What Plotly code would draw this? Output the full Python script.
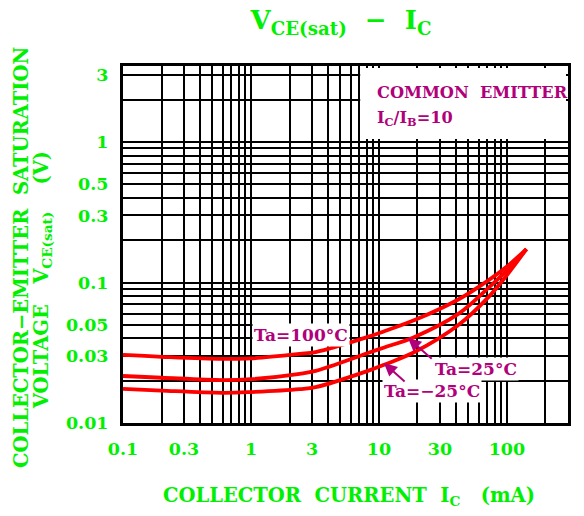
import numpy as np
import plotly.graph_objects as go

# ---- data ----
ic_ma = [0.1, 0.2, 0.6, 1, 2.4, 3.2, 8.2, 11, 19, 42, 72, 100, 142]
vce_100 = [0.0305, 0.0296, 0.0286, 0.0288, 0.031, 0.032, 0.041, 0.045, 0.054, 0.076, 0.104, 0.130, 0.173]
vce_25 = [0.0216, 0.0210, 0.0202, 0.0205, 0.0224, 0.0235, 0.0315, 0.0345, 0.041, 0.060, 0.092, 0.122, 0.173]
vce_m25 = [0.0175, 0.0170, 0.0164, 0.0166, 0.0174, 0.0180, 0.0235, 0.026, 0.032, 0.050, 0.079, 0.113, 0.173]

x_ticks = [0.1, 0.3, 1, 3, 10, 30, 100, 300]
x_tick_text = ["0.1", "0.3", "1", "3", "10", "30", "100", "300"]
y_ticks = [0.01, 0.03, 0.05, 0.1, 0.3, 0.5, 1, 3]
y_tick_text = ["0.01", "0.03", "0.05", "0.1", "0.3", "0.5", "1", "3"]

GREEN = "#00F000"
MAG = "#B0007A"
RED = "#FF0000"
FONT = "DejaVu Serif"

x_minor = [m * 10.0 ** e for e in range(-1, 3) for m in range(1, 10) if m * 10.0 ** e <= 300]
y_minor = [m * 10.0 ** e for e in range(-2, 1) for m in range(1, 10) if m * 10.0 ** e <= 3.5]

fig = go.Figure()
for ys in (vce_100, vce_25, vce_m25):
    fig.add_trace(go.Scatter(x=ic_ma, y=ys, mode="lines",
                             line=dict(color=RED, width=3.8, shape="spline", smoothing=1.0),
                             hoverinfo="skip"))

axis_common = dict(type="log", showgrid=True, gridcolor="black", gridwidth=1.6,
                   showline=True, linecolor="black", linewidth=3, mirror=True,
                   ticks="", zeroline=False,
                   tickfont=dict(family=FONT, size=17.5, color=GREEN, weight="bold"))

fig.update_xaxes(range=[np.log10(0.1), np.log10(300)], tickvals=x_ticks, ticktext=x_tick_text,
                 ticklabelstandoff=8,
                 minor=dict(tickvals=x_minor, showgrid=True, gridcolor="black", gridwidth=1.6, ticks=""),
                 **axis_common)
fig.update_yaxes(range=[-2, -2 + 357 / 140.5], tickvals=y_ticks, ticktext=y_tick_text,
                 ticklabelstandoff=8,
                 minor=dict(tickvals=y_minor, showgrid=True, gridcolor="black", gridwidth=1.6, ticks=""),
                 **axis_common)

# white box hiding the grid behind the condition text
fig.add_shape(type="rect", xref="paper", yref="paper", x0=0.533, x1=1 - 2 / 445,
              y0=0.7955, y1=1 - 2 / 357, fillcolor="white", line=dict(width=0), layer="above")

box_font = dict(family=FONT, size=16.2, color=MAG, weight="bold")
lab_font = dict(family=FONT, size=17, color=MAG, weight="bold")
fig.add_annotation(xref="paper", yref="paper", x=0.566, y=0.927, xanchor="left", yanchor="middle",
                   text="COMMON\u00a0\u00a0EMITTER", showarrow=False, font=box_font)
fig.add_annotation(xref="paper", yref="paper", x=0.566, y=0.854, xanchor="left", yanchor="middle",
                   text="I<sub>C</sub>/I<sub>B</sub>=10", showarrow=False, font=box_font)

# curve labels (annotations on log axes use log10 coordinates)
fig.add_annotation(x=np.log10(2.44), y=np.log10(0.0423), text="Ta=100°C", showarrow=False,
                   font=lab_font, bgcolor="white", borderpad=1)
fig.add_annotation(x=np.log10(57.7), y=np.log10(0.0242), text="Ta=25°C", showarrow=False,
                   font=lab_font, bgcolor="white", borderpad=1)
fig.add_annotation(x=np.log10(26), y=np.log10(0.0169), text="Ta=\u221225°C", showarrow=False,
                   font=lab_font, bgcolor="white", borderpad=1)
# arrows
fig.add_annotation(x=1.227, y=-1.395, ax=1.424, ay=-1.552, axref="x", ayref="y", text="",
                   showarrow=True, arrowhead=2, arrowsize=1.3, arrowwidth=2, arrowcolor=MAG)
fig.add_annotation(x=1.039, y=-1.573, ax=1.212, ay=-1.715, axref="x", ayref="y", text="",
                   showarrow=True, arrowhead=2, arrowsize=1.3, arrowwidth=2, arrowcolor=MAG)

title_font = dict(family=FONT, size=19.5, color=GREEN, weight="bold")
# x-axis title
fig.add_annotation(xref="paper", yref="paper", x=0.508, y=-0.207, xanchor="center", yanchor="middle",
                   text="COLLECTOR\u00a0\u00a0CURRENT\u00a0\u00a0I<sub>C</sub>\u00a0\u00a0\u00a0(mA)",
                   showarrow=False, font=title_font)
# y-axis title (two lines)
fig.add_annotation(xref="paper", yref="paper", x=-0.227, y=0.465, xanchor="center", yanchor="middle",
                   text="COLLECTOR\u2212EMITTER\u00a0\u00a0SATURATION", textangle=-90,
                   showarrow=False, font=title_font)
fig.add_annotation(xref="paper", yref="paper", x=-0.182, y=0.40, xanchor="center", yanchor="middle",
                   text="VOLTAGE\u00a0\u00a0\u00a0V<sub>CE(sat)</sub>\u00a0\u00a0\u00a0\u00a0(V)",
                   textangle=-90, showarrow=False, font=title_font)

fig.update_layout(
    width=584, height=516,
    margin=dict(l=123, r=16, t=66, b=93),
    plot_bgcolor="white", paper_bgcolor="white",
    showlegend=False,
    title=dict(text="V<sub>CE(sat)</sub>\u00a0\u00a0\u2212\u00a0\u00a0I<sub>C</sub>",
               x=341 / 584, xref="container", xanchor="center",
               y=1 - 20 / 516, yref="container", yanchor="middle",
               font=dict(family=FONT, size=26, color=GREEN, weight="bold")),
)

fig.write_html("out.html", config={"displayModeBar": False},
               post_script="document.body.style.margin='0';document.body.style.overflow='hidden';")
